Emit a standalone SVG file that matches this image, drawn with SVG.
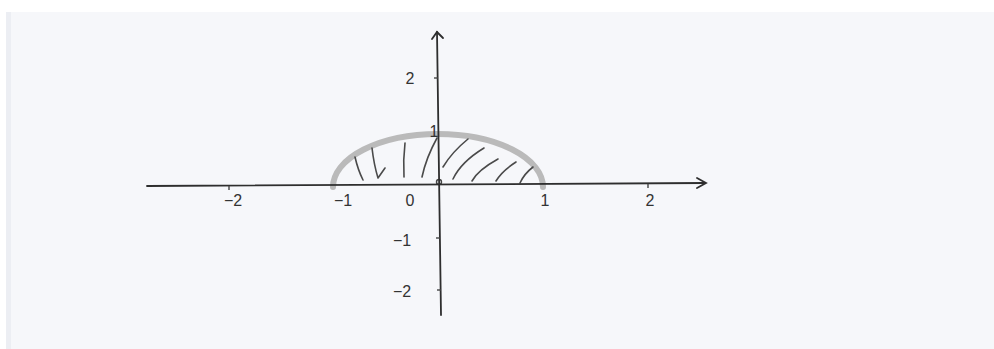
<svg xmlns="http://www.w3.org/2000/svg" width="994" height="349" viewBox="0 0 994 349">
  <defs>
    <style>
      .axis { stroke: #2e2e2e; stroke-width: 1.8; fill: none; stroke-linecap: round; }
      .tick { stroke: #444; stroke-width: 1.4; fill: none; }
      .hatch { stroke: #4a4a4a; stroke-width: 1.6; fill: none; stroke-linecap: round; stroke-linejoin: round; }
      .lbl { font-family: "Liberation Sans", Arial, sans-serif; font-size: 16px; fill: #333; text-anchor: middle; }
    </style>
  </defs>
  <rect x="0" y="0" width="994" height="349" fill="#ffffff"/>
  <rect x="6" y="12" width="988" height="337" fill="#f6f7fa"/>
  <rect x="6" y="12" width="5" height="337" fill="#eceef3"/>

  <g id="arc">
    <path d="M 333 187 A 105 53 0 0 1 543 187" fill="none" stroke="#bababa" stroke-width="6" stroke-linecap="round"/>
  </g>

  <g id="hatching">
    <path class="hatch" d="M 355 157 Q 358 170 363 180"/>
    <path class="hatch" d="M 372 148 Q 374 165 378 178 L 385 168"/>
    <path class="hatch" d="M 405 143 Q 403 160 404 177"/>
    <path class="hatch" d="M 437 138 Q 426 158 422 177"/>
    <path class="hatch" d="M 443 167 Q 452 152 468 139"/>
    <path class="hatch" d="M 453 179 Q 461 162 484 148"/>
    <path class="hatch" d="M 472 181 Q 478 170 498 159"/>
    <path class="hatch" d="M 496 181 Q 502 171 516 162"/>
    <path class="hatch" d="M 520 183 Q 524 174 533 167"/>
    <circle cx="439" cy="182" r="2.5" fill="none" stroke="#444" stroke-width="1.4"/>
  </g>

  <g id="axes">
    <path class="axis" d="M 147 186 L 705 183"/>
    <path class="axis" d="M 697 178 L 706 183 L 697 188"/>
    <path class="axis" d="M 437 32 L 441 315"/>
    <path class="axis" d="M 432 39 L 437 32 L 443 38"/>
  </g>

  <g id="ticks">
    <path class="tick" d="M 229 186 v 4"/>
    <path class="tick" d="M 648 184 v 4"/>
    <path class="tick" d="M 434 78 h 4"/>
    <path class="tick" d="M 436 238 h 4"/>
    <path class="tick" d="M 437 290 h 4"/>
  </g>

  <g id="labels">
    <text class="lbl" x="233" y="206">−2</text>
    <text class="lbl" x="343" y="206">−1</text>
    <text class="lbl" x="410" y="206">0</text>
    <text class="lbl" x="545" y="206">1</text>
    <text class="lbl" x="650" y="206">2</text>
    <text class="lbl" x="410" y="84">2</text>
    <text class="lbl" x="434" y="137">1</text>
    <text class="lbl" x="402" y="246">−1</text>
    <text class="lbl" x="402" y="297">−2</text>
  </g>
</svg>
